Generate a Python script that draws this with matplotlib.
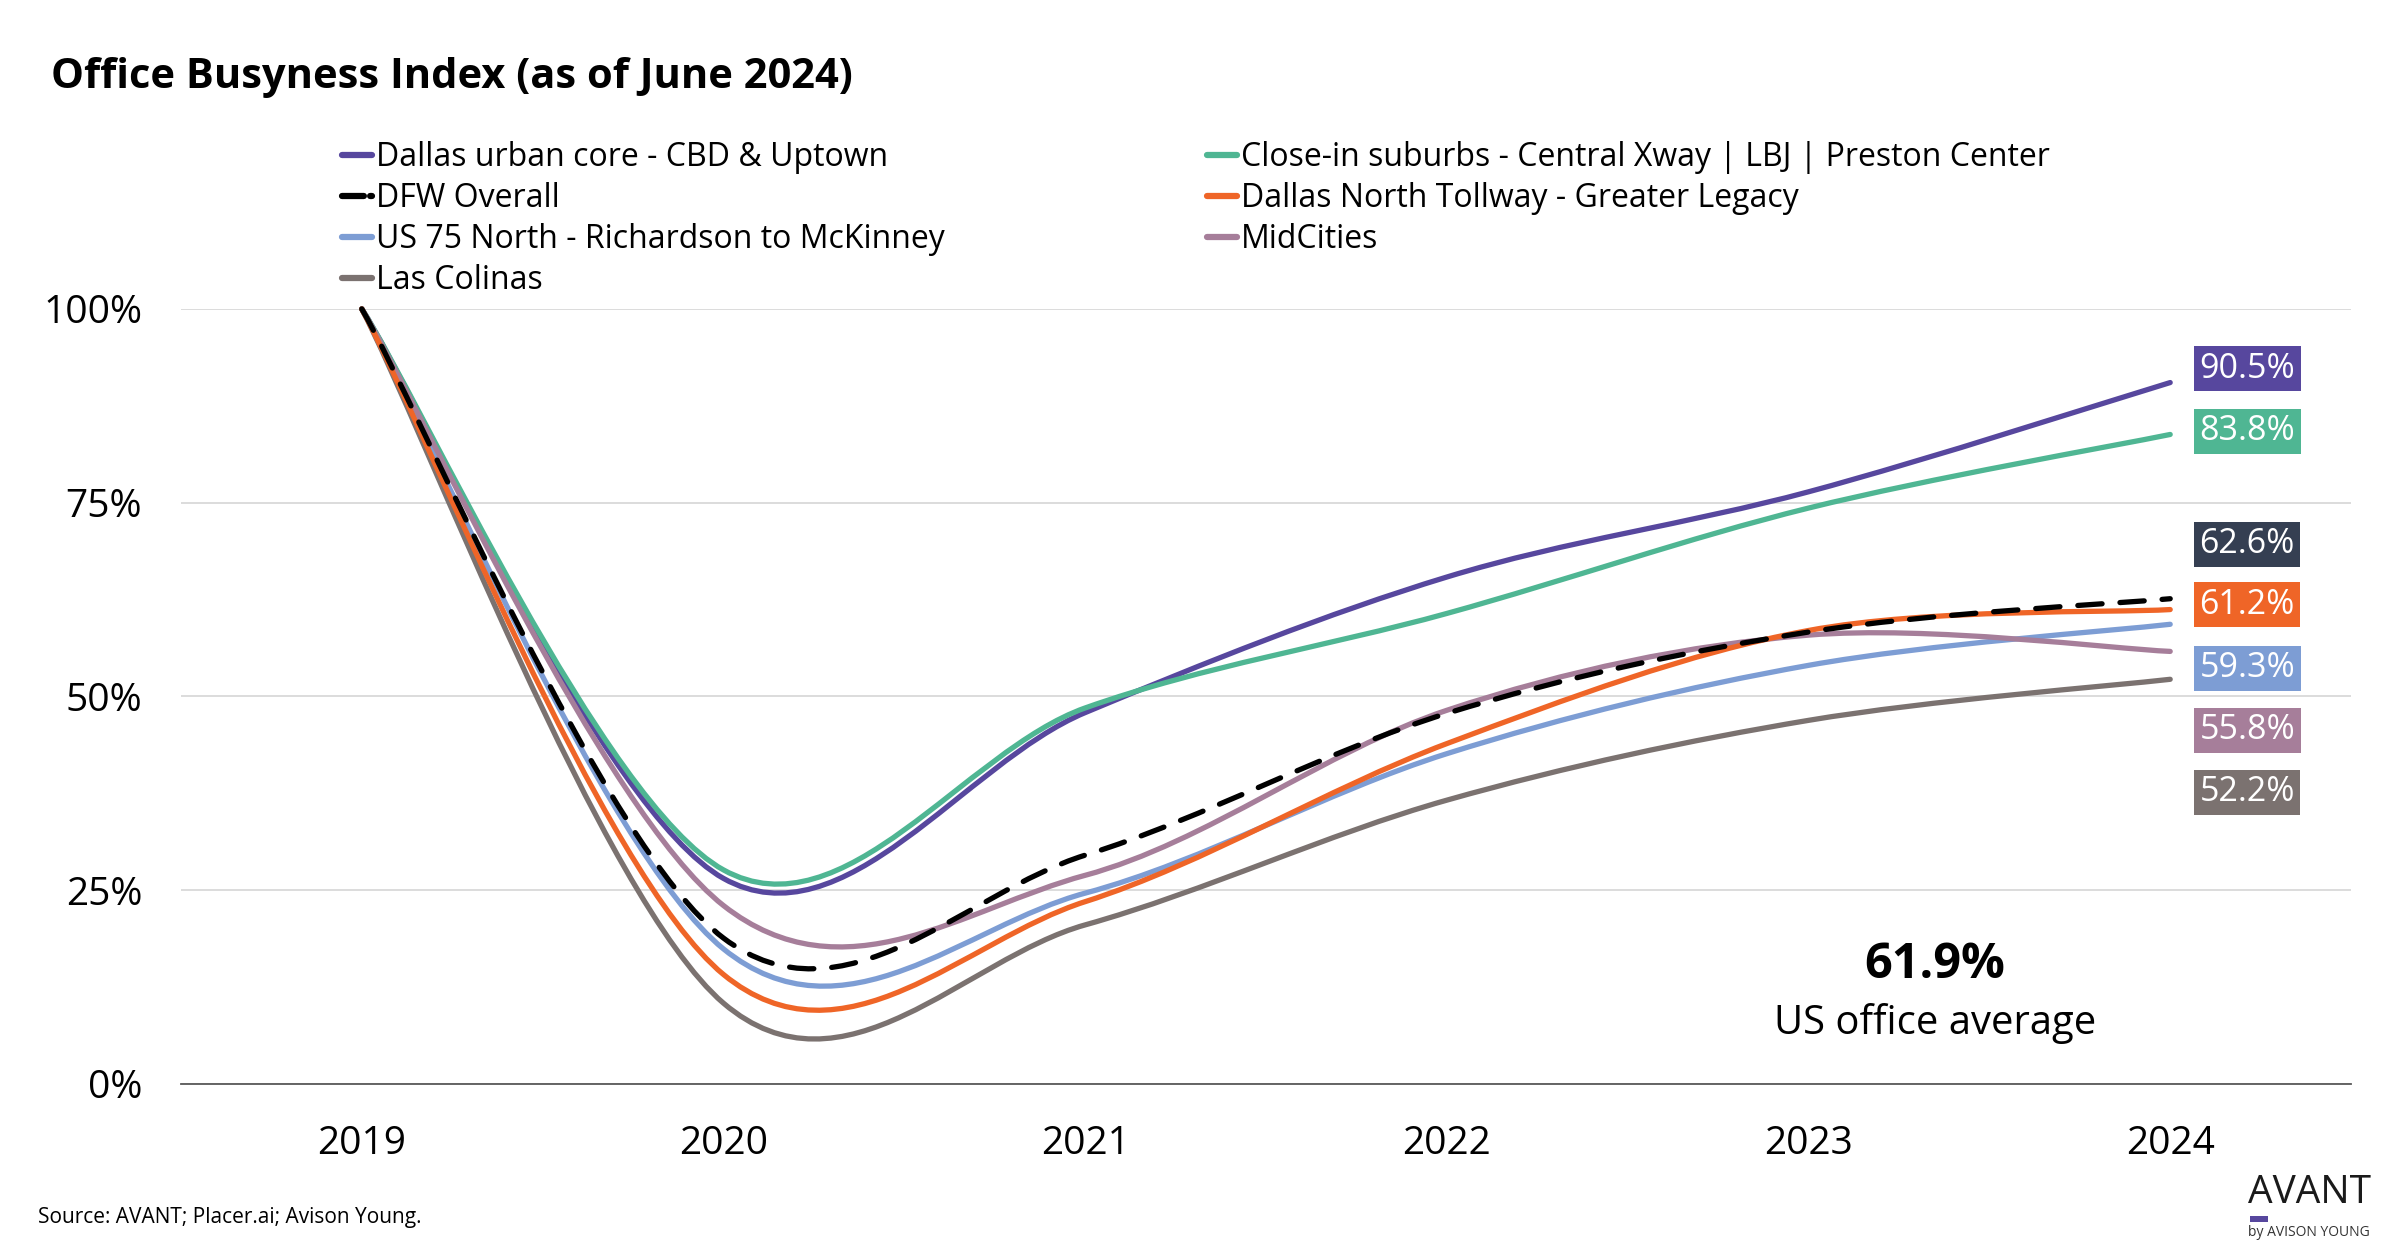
import matplotlib
matplotlib.use('Agg')
import matplotlib.pyplot as plt
from matplotlib.path import Path
from matplotlib.patches import PathPatch, Rectangle
from matplotlib.lines import Line2D

plt.rcParams['font.family'] = ['Open Sans', 'DejaVu Sans']

# ---------------------------------------------------------------- data
years = [2019, 2020, 2021, 2022, 2023, 2024]
dallas_core = [100, 26.5, 47.9, 65.4, 76.4, 90.5]
close_in = [100, 27.6, 48.5, 60.7, 74.3, 83.8]
dfw_overall = [100, 18.8, 29.5, 47.8, 58.3, 62.6]
dnt_legacy = [100, 14.1, 23.5, 43.9, 58.5, 61.2]
us75_north = [100, 17.4, 24.6, 42.6, 54.0, 59.3]
midcities = [100, 23.0, 26.9, 48.2, 57.9, 55.8]
las_colinas = [100, 10.4, 20.5, 36.6, 46.9, 52.2]

names = ['Dallas urban core - CBD & Uptown',
         'Close-in suburbs - Central Xway | LBJ | Preston Center',
         'DFW Overall',
         'Dallas North Tollway - Greater Legacy',
         'US 75 North - Richardson to McKinney',
         'MidCities',
         'Las Colinas']
series = [dallas_core, close_in, dfw_overall, dnt_legacy, us75_north, midcities, las_colinas]
us_average = 61.9

# ---------------------------------------------------------------- styles
line_colors = ['#57479E', '#4FB693', '#000000', '#EF6527', '#7D9DD4', '#A67E9A', '#7B7270']
box_colors = ['#57479E', '#4FB693', '#353F52', '#EF6527', '#7D9DD4', '#A67E9A', '#7B7270']
styles = ['-', '-', (0, (4.6, 3.4)), '-', '-', '-', '-']
label_pos = [92.3, 84.2, 69.6, 61.8, 53.6, 45.6, 37.6]   # y of the end labels (layout only)
zorders = [3, 3, 5, 4, 3, 3, 3]


def smooth_path(xs, ys):
    # excel style smoothed line: cubic bezier segments through every point
    verts = [(xs[0], ys[0])]
    codes = [Path.MOVETO]
    n = len(xs)
    for i in range(n - 1):
        x0, y0 = xs[max(i - 1, 0)], ys[max(i - 1, 0)]
        x1, y1 = xs[i], ys[i]
        x2, y2 = xs[i + 1], ys[i + 1]
        x3, y3 = xs[min(i + 2, n - 1)], ys[min(i + 2, n - 1)]
        verts += [(x1 + (x2 - x0) / 6, y1 + (y2 - y0) / 6),
                  (x2 - (x3 - x1) / 6, y2 - (y3 - y1) / 6),
                  (x2, y2)]
        codes += [Path.CURVE4] * 3
    return Path(verts, codes)


fig = plt.figure(figsize=(24, 12.6), dpi=100)
ax = fig.add_axes([0.0754, 0.1399, 0.9042, 0.6149])

for vals, col, ls, z in zip(series, line_colors, styles, zorders):
    patch = PathPatch(smooth_path(years, vals), fill=False, edgecolor=col, lw=3.8,
                      linestyle=ls, capstyle='round', joinstyle='round', zorder=z)
    patch.set_clip_on(False)
    ax.add_patch(patch)

# end labels
for vals, col, ly in zip(series, box_colors, label_pos):
    ax.text(2024.213, ly, '%.1f%%' % vals[-1], ha='center', va='center', color='white',
            fontsize=24.5, clip_on=False,
            bbox=dict(boxstyle='square,pad=0.16', fc=col, ec='none'))

ax.set_xlim(2018.5, 2024.5)
ax.set_ylim(0, 100)
ax.set_xticks(years)
ax.set_xticklabels([str(y) for y in years])
ax.set_yticks([0, 25, 50, 75, 100])
ax.set_yticklabels(['%d%%' % v for v in [0, 25, 50, 75, 100]])
ax.tick_params(length=0, labelsize=28, colors='black')
ax.tick_params(axis='x', pad=30)
ax.tick_params(axis='y', pad=28)
ax.grid(axis='y', color='#D9D9D9', lw=1.3)
ax.set_axisbelow(True)
for s in ['left', 'right', 'top']:
    ax.spines[s].set_visible(False)
ax.spines['bottom'].set_color('#595959')
ax.spines['bottom'].set_linewidth(1.3)

# US average annotation
fig.text(1935 / 2400, 1 - 966 / 1260, '%.1f%%' % us_average, ha='center', va='center',
         fontsize=35, fontweight='bold')
fig.text(1935 / 2400, 1 - 1023 / 1260, 'US office average', ha='center', va='center',
         fontsize=28.8)

# legend (excel order, two columns)
handles = []
for i, c in enumerate(line_colors):
    if i == 2:
        handles.append(Line2D([], [], color=c, lw=4.5, linestyle=(0, (3.5, 1)),
                              dash_capstyle='round'))
    else:
        handles.append(Line2D([], [], color=c, lw=4.5, solid_capstyle='round'))

left = [0, 2, 4, 6]
right = [1, 3, 5]
kw = dict(loc='upper left', frameon=False, fontsize=23, handlelength=0.95,
          handletextpad=0.12, labelspacing=0.25, borderpad=0, borderaxespad=0)
leg1 = fig.legend([handles[i] for i in left], [names[i] for i in left],
                  bbox_to_anchor=(342 / 2400, 1 - 141 / 1260), **kw)
leg2 = fig.legend([handles[i] for i in right], [names[i] for i in right],
                  bbox_to_anchor=(1207 / 2400, 1 - 141 / 1260), **kw)

# title and footer
fig.text(51 / 2400, 1 - 78 / 1260, 'Office Busyness Index (as of June 2024)', ha='left',
         va='center', fontsize=30, fontweight='bold')
fig.text(38 / 2400, 1 - 1218 / 1260, 'Source: AVANT; Placer.ai; Avison Young.', ha='left',
         va='center', fontsize=15)
fig.text(2248 / 2400, 1 - 1193 / 1260, 'AVANT', ha='left', va='center', fontsize=28,
         color='#1A1A1A')
fig.patches.append(Rectangle((2250 / 2400, 1 - 1222 / 1260), 18 / 2400, 6 / 1260,
                             transform=fig.transFigure, fc='#57479E', ec='none'))
fig.text(2248 / 2400, 1 - 1233 / 1260, 'by AVISON YOUNG', ha='left', va='center', fontsize=10,
         color='#333333')

fig.savefig('out.png', dpi=100, facecolor='white')
